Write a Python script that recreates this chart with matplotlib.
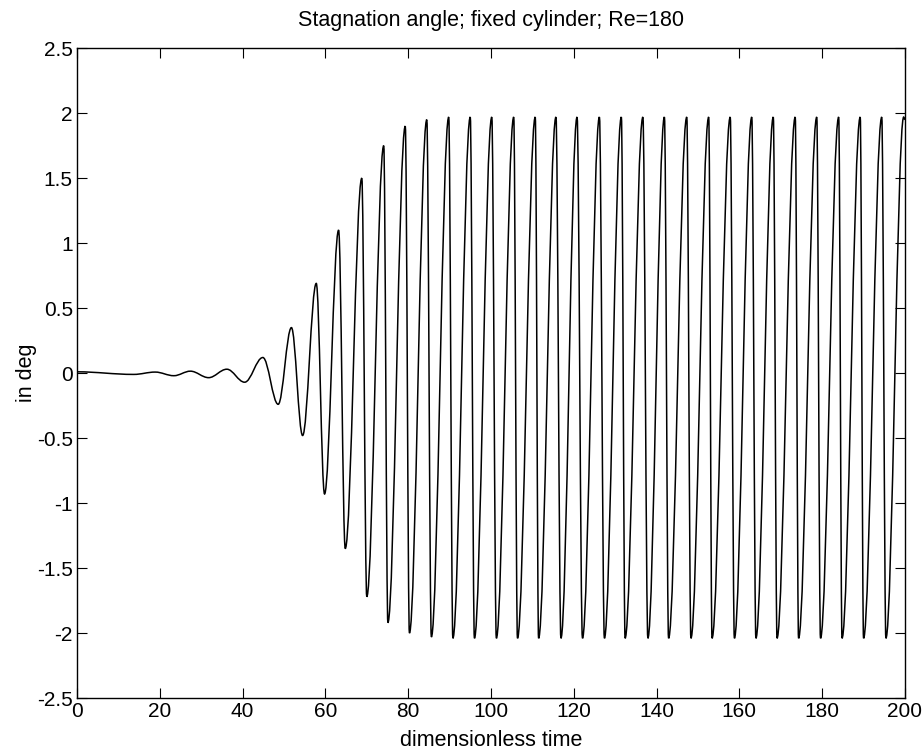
import numpy as np
import matplotlib.pyplot as plt
from matplotlib.path import Path
from matplotlib.patches import PathPatch
from matplotlib.ticker import FormatStrFormatter

plt.rcParams['font.family'] = ['Liberation Sans', 'DejaVu Sans']
plt.rcParams['axes.unicode_minus'] = False

# turning points (peaks / troughs) of the stagnation angle
ext_time = [0, 13.7, 18.9, 23.4, 27.4, 31.8, 36.2, 40.5, 44.9, 48.6,
            51.8, 54.5, 57.8, 59.8, 63.2, 64.8, 68.8, 70.0, 74.1, 75.1,
            79.3, 80.3, 84.5, 85.6, 89.8, 90.8, 95.0, 96.0, 100.2, 101.3,
            105.5, 106.4, 110.7, 111.5, 115.7, 116.9, 120.8, 122.1, 126.2, 127.4,
            131.5, 132.4, 136.7, 137.9, 141.9, 142.9, 147.3, 148.3, 152.6, 153.4,
            157.8, 158.8, 163.0, 164.0, 168.2, 169.1, 173.5, 174.3, 178.7, 179.6,
            184.0, 184.8, 189.2, 190.0, 194.4, 195.4, 199.7, 200]
ext_angle = [0.01, -0.01, 0.008, -0.02, 0.015, -0.035, 0.03, -0.07, 0.12, -0.24,
             0.35, -0.48, 0.69, -0.93, 1.10, -1.35, 1.50, -1.72, 1.75, -1.92,
             1.90, -2.00, 1.95, -2.03, 1.97, -2.04, 1.97, -2.04, 1.97, -2.04,
             1.97, -2.04, 1.97, -2.04, 1.97, -2.04, 1.97, -2.04, 1.97, -2.04,
             1.97, -2.04, 1.97, -2.04, 1.97, -2.04, 1.97, -2.04, 1.97, -2.04,
             1.97, -2.04, 1.97, -2.04, 1.97, -2.04, 1.97, -2.04, 1.97, -2.04,
             1.97, -2.04, 1.97, -2.04, 1.97, -2.04, 1.97, 1.95]

x_ticks = np.arange(0, 201, 20)
y_ticks = np.arange(-2.5, 2.51, 0.5)

fig = plt.figure(figsize=(9.22, 7.53), dpi=100)
ax = fig.add_axes([0.0835, 0.073, 0.898, 0.863])

# smooth half-wave between successive turning points (bezier, flat tangents)
verts = [(ext_time[0], ext_angle[0])]
codes = [Path.MOVETO]
for i in range(1, len(ext_time)):
    t0, v0 = ext_time[i-1], ext_angle[i-1]
    t1, v1 = ext_time[i], ext_angle[i]
    dt = t1 - t0
    verts += [(t0 + 0.364*dt, v0), (t1 - 0.364*dt, v1), (t1, v1)]
    codes += [Path.CURVE4]*3
ax.add_patch(PathPatch(Path(verts, codes), fill=False, lw=1.1, edgecolor='k'))

ax.set_xlim(0, 200)
ax.set_ylim(-2.5, 2.5)
ax.set_xticks(x_ticks)
ax.set_yticks(y_ticks)
ax.yaxis.set_major_formatter(FormatStrFormatter('%g'))
ax.tick_params(direction='in', top=True, right=True, length=7, width=0.8,
               labelsize=15, pad=3)
for s in ax.spines.values():
    s.set_linewidth(1.0)

ax.set_title("Stagnation angle; fixed cylinder; Re=180", fontsize=15.5, pad=16)
ax.set_xlabel("dimensionless time", fontsize=15.5, labelpad=6)
ax.set_ylabel("in deg", fontsize=15.5, labelpad=0)

fig.savefig('out.png', dpi=100)
